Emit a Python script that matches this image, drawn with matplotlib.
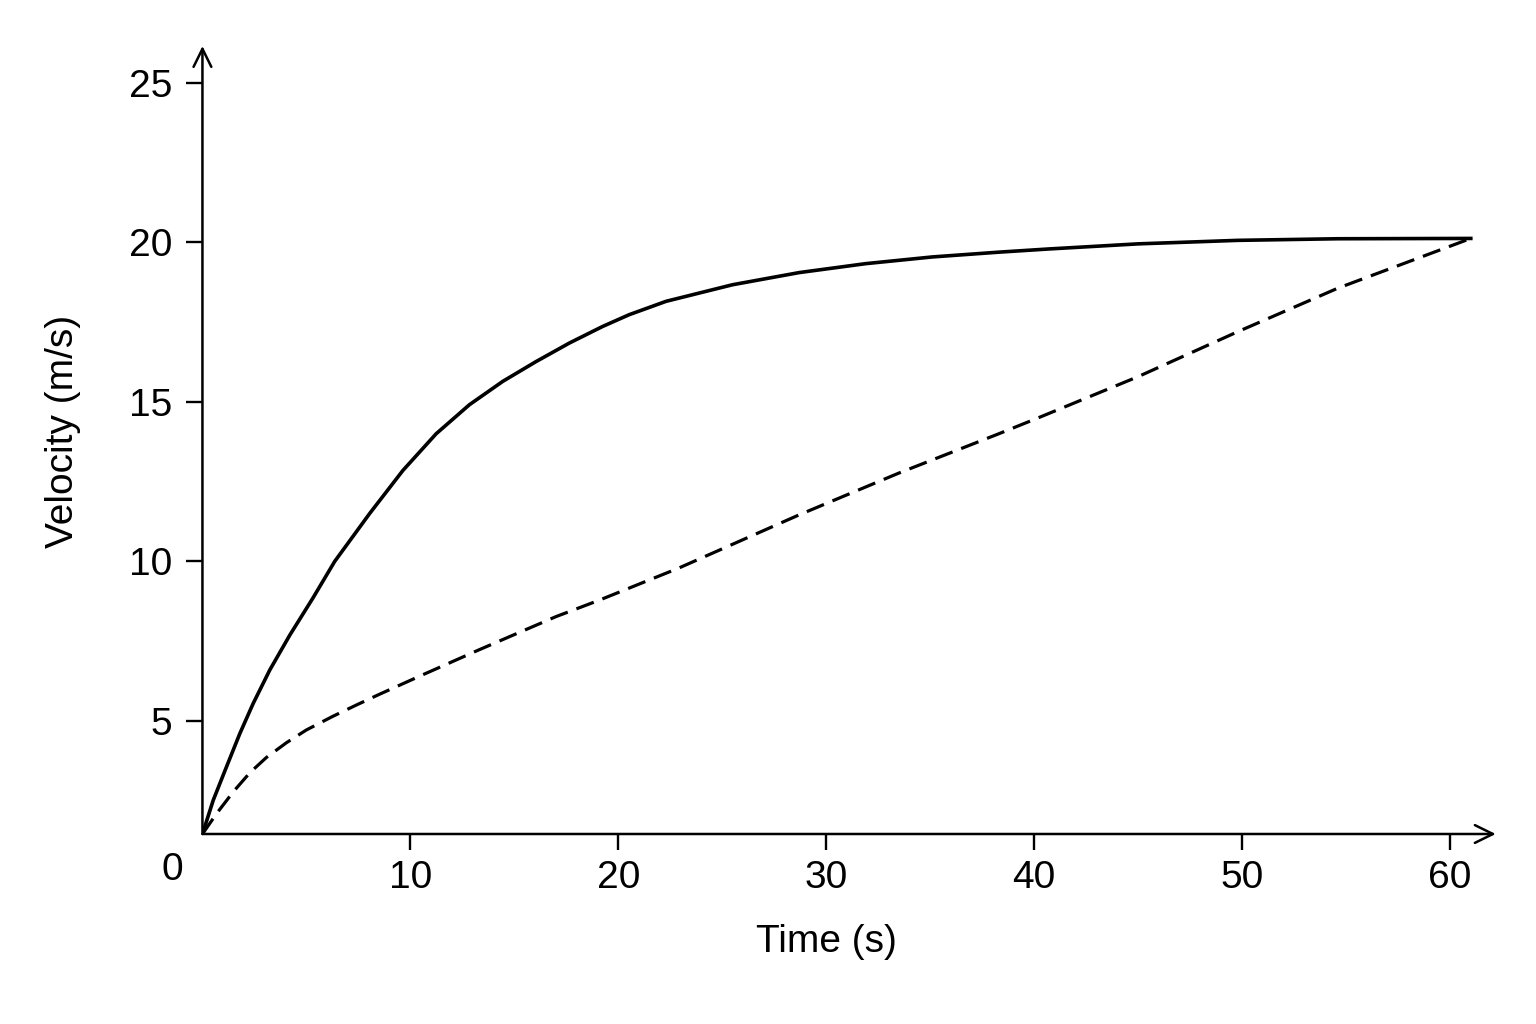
import matplotlib.pyplot as plt

plt.rcParams['font.family'] = ['Liberation Sans', 'DejaVu Sans']

# values
t_solid = [0, 0.52, 1.16, 1.80, 2.44, 3.24, 4.20, 5.32, 6.36, 8.04, 9.64, 11.24,
           12.84, 14.44, 16.04, 17.64, 19.24, 20.52, 22.3, 25.5, 28.7, 31.9,
           35.1, 38.3, 40.7, 45.0, 49.8, 54.6, 61.0]
v_solid = [1.46, 2.52, 3.57, 4.61, 5.55, 6.60, 7.69, 8.86, 10.0, 11.5, 12.85,
           14.0, 14.91, 15.64, 16.26, 16.84, 17.36, 17.73, 18.15, 18.67, 19.05,
           19.33, 19.54, 19.69, 19.79, 19.95, 20.06, 20.11, 20.12]

t_dashed = [0, 0.68, 1.48, 2.28, 3.08, 4.04, 5.0, 6.28, 7.4, 8.52, 10.6, 13.3,
            17.0, 19.1, 22.9, 28.7, 33.5, 38.3, 40.2, 45.0, 49.8, 54.6, 61.0]
v_dashed = [1.46, 2.10, 2.78, 3.38, 3.86, 4.32, 4.72, 5.15, 5.50, 5.84, 6.45,
            7.23, 8.27, 8.79, 9.79, 11.46, 12.77, 14.0, 14.5, 15.79, 17.2, 18.56,
            20.12]

x_ticks = [10, 20, 30, 40, 50, 60]
y_ticks = [5, 10, 15, 20, 25]

fig = plt.figure(figsize=(15.36, 10.24), dpi=100)
ax = fig.add_axes([0.1318, 0.18555, 0.8420, 0.76955])

ax.plot(t_solid, v_solid, color='black', lw=2.6, solid_joinstyle='round')
ax.plot(t_dashed, v_dashed, color='black', lw=2.3, dashes=(5.8, 2.9))

ax.set_xlim(0, 62.2)
ax.set_ylim(1.46, 26.15)
ax.set_xticks(x_ticks)
ax.set_yticks(y_ticks)
ax.tick_params(axis='both', direction='out', length=11.5, width=1.7,
               labelsize=28, color='black')
ax.tick_params(axis='x', pad=7)
ax.tick_params(axis='y', pad=10)

for s in ax.spines.values():
    s.set_visible(False)

# axes drawn as arrows
arrow = dict(arrowstyle='->,head_length=0.65,head_width=0.32', lw=1.8,
             color='black', shrinkA=0, shrinkB=0, mutation_scale=20)
ax.annotate('', xy=(1, 0), xytext=(0, 0), xycoords='axes fraction',
            arrowprops=arrow, annotation_clip=False)
ax.annotate('', xy=(0, 1), xytext=(0, 0), xycoords='axes fraction',
            arrowprops=arrow, annotation_clip=False)

ax.text(-0.0232, -0.0406, '0', transform=ax.transAxes, ha='center',
        va='center_baseline', fontsize=28)

ax.set_xlabel('Time (s)', fontsize=28, va='center')
ax.xaxis.set_label_coords((826 - 202.5) / 1293.2, (834 - 942) / 788)
ax.set_ylabel('Velocity (m/s)', fontsize=28, va='center', ha='center')
ax.yaxis.set_label_coords((63 - 202.5) / 1293.2, (834 - 431) / 788)

plt.savefig('out.png', dpi=100, facecolor='white')
